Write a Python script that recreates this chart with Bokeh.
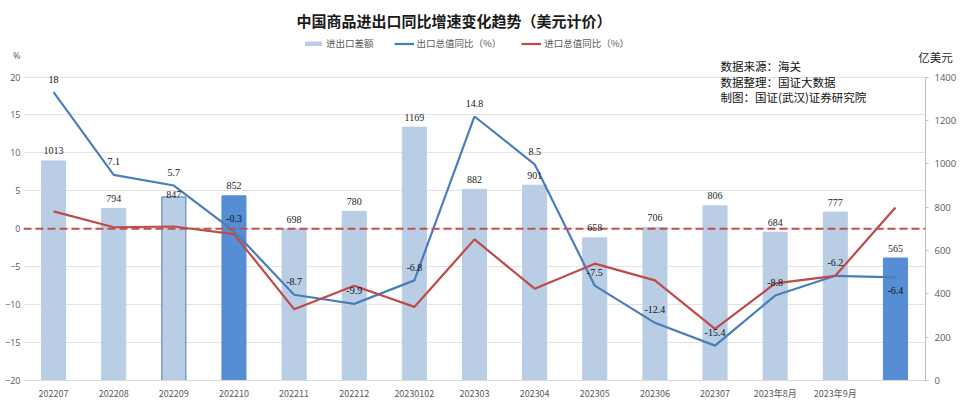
from bokeh.plotting import figure
from bokeh.models import (ColumnDataSource, LinearAxis, Range1d, Span, Label,
                          LabelSet, Legend, LegendItem, FactorRange, FixedTicker)
from bokeh.embed import file_html
from bokeh.resources import INLINE

# ---------------- data ----------------
categories = ["202207", "202208", "202209", "202210", "202211", "202212",
              "20230102", "202303", "202304", "202305", "202306", "202307",
              "2023年8月", "2023年9月", " "]
trade_balance = [1013, 794, 847, 852, 698, 780, 1169, 882, 901, 658, 706, 806, 684, 777, 565]
export_yoy = [18, 7.1, 5.7, -0.3, -8.7, -9.9, -6.8, 14.8, 8.5, -7.5, -12.4, -15.4, -8.8, -6.2, -6.4]
import_yoy = [2.3, 0.2, 0.3, -0.7, -10.6, -7.5, -10.3, -1.4, -7.9, -4.6, -6.8, -13.2, -7.2, -6.2, 2.8]
left_ticks = [-20, -15, -10, -5, 0, 5, 10, 15, 20]
right_ticks = [0, 200, 400, 600, 800, 1000, 1200, 1400]

title_text = "中国商品进出口同比增速变化趋势（美元计价）"
series_names = ["进出口差额", "出口总值同比（%）", "进口总值同比（%）"]
notes = ["数据来源：海关", "数据整理：国证大数据", "制图：国证(武汉)证券研究院"]
left_unit = "%"
right_unit = "亿美元"

# ---------------- styles / layout ----------------
LIGHT = "#B9CDE5"
DARK = "#558ED5"
BLUE = "#4A7EBB"
RED = "#BE4B48"
GRID = "#E3E3E3"
TXT = "#595959"
CJK = "Noto Sans CJK SC"
NUM = "Open Sans"

W, H = 960, 418
B_LEFT, B_RIGHT, B_TOP, B_BOTTOM = 23, 35, 34, 37
AXIS_TOP_PX = 74                     # pixel row of the 20 / 1400 gridline
scale_h = H - B_BOTTOM - AXIS_TOP_PX  # pixels used by -20..20
extra = (AXIS_TOP_PX - B_TOP) / scale_h
left_top = 20 + 40 * extra
right_top = 1400 + 1400 * extra

highlight = {3, 14}
outlined = {2}
below_label = {14}
bar_nudge = {2: 2}

n = len(categories)
fill_colors = [DARK if i in highlight else LIGHT for i in range(n)]
line_colors = [BLUE if i in outlined else c for i, c in enumerate(fill_colors)]
exp_offsets = [-13 if i in below_label else 13 for i in range(n)]
bal_offsets = [bar_nudge.get(i, 10) for i in range(n)]

src = ColumnDataSource(dict(
    cat=categories, bal=trade_balance, exp=export_yoy, imp=import_yoy,
    fill=fill_colors, lc=line_colors,
    bal_txt=[str(v) for v in trade_balance],
    exp_txt=[f"{v:g}" for v in export_yoy],
    exp_off=exp_offsets, bal_off=bal_offsets,
))

# helper: page pixel -> data coordinates (text placement only)
cat_w = (W - B_LEFT - B_RIGHT) / n
def px_x(x):
    return (x - B_LEFT) / cat_w
def px_y(y):
    return 20 - (y - AXIS_TOP_PX) * 40 / scale_h

p = figure(width=W, height=H, x_range=FactorRange(*categories, range_padding=0),
           y_range=Range1d(-20, left_top), output_backend="svg", toolbar_location=None,
           min_border_left=B_LEFT, min_border_right=B_RIGHT, min_border_top=B_TOP,
           min_border_bottom=B_BOTTOM, outline_line_color=None)
p.extra_y_ranges = {"right": Range1d(0, right_top)}

p.title.text = title_text
p.title.align = "left"
p.title.offset = 273
p.title.standoff = 14
p.title.text_font = CJK
p.title.text_font_size = "15px"
p.title.text_font_style = "bold"
p.title.text_color = "#1A1A1A"

# axes
p.xaxis.major_tick_line_color = None
p.xaxis.major_tick_out = 0
p.xaxis.major_tick_in = 0
p.xaxis.axis_line_color = "#D9D9D9"
p.xaxis.major_label_text_font = CJK
p.xaxis.major_label_text_font_size = "9px"
p.xaxis.major_label_text_color = TXT
p.xaxis.major_label_standoff = 6
p.xgrid.grid_line_color = None

# left axis: the unit "%" sits at the top of the tick-label column
unit_pos = round(px_y(52), 2)
p.yaxis.ticker = FixedTicker(ticks=left_ticks + [unit_pos])
p.yaxis.major_label_overrides = {unit_pos: left_unit}
p.yaxis.axis_line_color = None
p.yaxis.major_tick_line_color = None
p.yaxis.major_tick_out = 0
p.yaxis.major_tick_in = 0
p.yaxis.minor_tick_line_color = None
p.yaxis.major_label_text_font = NUM
p.yaxis.major_label_text_font_size = "9px"
p.yaxis.major_label_text_color = TXT
p.yaxis.major_label_standoff = 3
p.ygrid.ticker = FixedTicker(ticks=left_ticks)
p.ygrid.grid_line_color = GRID

ry = LinearAxis(y_range_name="right", ticker=right_ticks, bounds=(0, 1400))
ry.axis_line_color = "#BFBFBF"
ry.major_tick_line_color = "#BFBFBF"
ry.major_tick_out = 3
ry.major_tick_in = 0
ry.minor_tick_line_color = None
ry.major_label_text_font = NUM
ry.major_label_text_font_size = "9.5px"
ry.major_label_text_color = TXT
ry.major_label_standoff = 6
p.add_layout(ry, "right")

# glyphs
bars = p.vbar(x="cat", top="bal", width=0.4, y_range_name="right", source=src,
              fill_color="fill", line_color="lc", line_width=1)
p.add_layout(Span(location=0, dimension="width", line_color="#C0504D",
                  line_dash="8 4", line_width=2))
l_exp = p.line(x="cat", y="exp", source=src, line_color=BLUE, line_width=2.2)
l_imp = p.line(x="cat", y="imp", source=src, line_color=RED, line_width=2.2)

p.add_layout(LabelSet(x="cat", y="bal", text="bal_txt", y_range_name="right",
                      source=src, y_offset="bal_off", text_align="center",
                      text_baseline="middle", text_font=NUM,
                      text_font_size="10px", text_color="#262626"))
p.add_layout(LabelSet(x="cat", y="exp", text="exp_txt", source=src,
                      y_offset="exp_off", text_align="center",
                      text_baseline="middle", text_font=NUM,
                      text_font_size="10px", text_color="#111111"))

legend = Legend(items=[LegendItem(label=series_names[0], renderers=[bars]),
                       LegendItem(label=series_names[1], renderers=[l_exp]),
                       LegendItem(label=series_names[2], renderers=[l_imp])],
                orientation="horizontal", location=(303 - B_LEFT, H - B_BOTTOM - 51),
                padding=0, margin=0, spacing=20, label_standoff=3,
                glyph_width=20, glyph_height=5, label_height=12,
                label_text_font=CJK, label_text_font_size="9.5px",
                label_text_color=TXT, border_line_color=None,
                background_fill_alpha=0)
p.add_layout(legend)

# right unit label, drawn from the bottom side panel so it is not clipped to the frame
p.add_layout(Label(x=px_x(935), y=px_y(54), text=right_unit, text_align="center",
                   text_baseline="middle", text_font=CJK,
                   text_font_size="11.5px", text_color="#262626"), "below")
for yy, t in zip([63, 79, 94], notes):
    p.add_layout(Label(x=px_x(720), y=px_y(yy), text=t, text_align="left",
                       text_baseline="middle", text_font=CJK,
                       text_font_size="11.5px", text_color="#111111"))

open("out.html", "w").write(file_html(p, INLINE))
